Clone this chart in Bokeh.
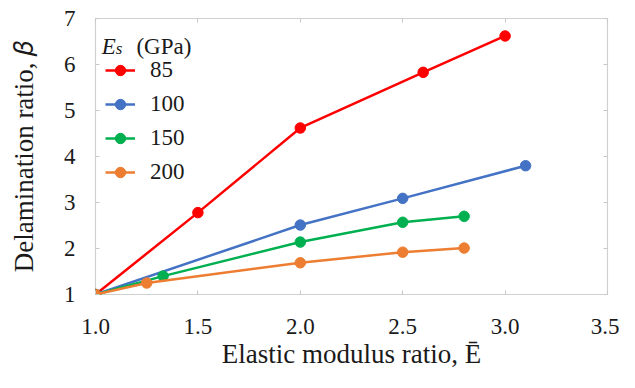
from bokeh.plotting import figure
from bokeh.models import Range1d, LinearAxis, Label, Legend, LegendItem, FixedTicker, ColumnDataSource
from bokeh.embed import file_html
from bokeh.resources import INLINE

# Data
x_85 = [1.0, 1.5, 2.0, 2.6, 3.0]
y_85 = [1.0, 2.78, 4.62, 5.83, 6.62]
x_100 = [1.0, 2.0, 2.5, 3.1]
y_100 = [1.0, 2.51, 3.09, 3.80]
x_150 = [1.0, 1.33, 2.0, 2.5, 2.8]
y_150 = [1.0, 1.40, 2.14, 2.57, 2.70]
x_200 = [1.0, 1.25, 2.0, 2.5, 2.8]
y_200 = [1.0, 1.25, 1.69, 1.92, 2.01]
series_labels = ["85", "100", "150", "200"]
series_colors = ["#FF0000", "#4472C4", "#00B050", "#ED7D31"]
x_ticks = [1.0, 1.5, 2.0, 2.5, 3.0, 3.5]
y_ticks = [1, 2, 3, 4, 5, 6, 7]
x_title = "Elastic modulus ratio, \u0112"
y_title = "Delamination ratio, \U0001D6FD"

SERIF = "'Liberation Serif', 'Times New Roman', 'DejaVu Serif', serif"
TXT = "#1a1a1a"
SMALL = "23px"

W, H = 619, 372
p = figure(width=W, height=H, output_backend="svg", toolbar_location=None,
           x_range=Range1d(1.0, 3.5), y_range=Range1d(1, 7),
           min_border_left=95, min_border_right=12, min_border_top=18, min_border_bottom=78)
p.grid.visible = False
p.outline_line_color = "#D0D0D0"
p.outline_line_width = 1.2
p.background_fill_color = "white"
p.border_fill_color = "white"

for ax in (p.xaxis[0], p.yaxis[0]):
    ax.axis_line_color = None
    ax.major_tick_line_color = "#C8C8C8"
    ax.major_tick_in = 4
    ax.major_tick_out = 0
    ax.minor_tick_line_color = None
    ax.major_label_text_font = SERIF
    ax.major_label_text_font_size = SMALL
    ax.major_label_text_font_style = "normal"
    ax.major_label_text_color = TXT
    ax.axis_label_text_font = SERIF
    ax.axis_label_text_font_size = "27px"
    ax.axis_label_text_font_style = "normal"
    ax.axis_label_text_color = TXT

p.xaxis[0].ticker = FixedTicker(ticks=x_ticks)
p.yaxis[0].ticker = FixedTicker(ticks=y_ticks)
p.xaxis[0].major_label_standoff = 24
p.yaxis[0].major_label_standoff = 20
p.xaxis[0].major_label_overrides = {t: f"{t:.1f}" for t in x_ticks}
p.xaxis[0].axis_label = x_title
p.yaxis[0].axis_label = y_title
p.xaxis[0].axis_label_standoff = 2
p.yaxis[0].axis_label_standoff = 22

# mirrored inside ticks on top and right (labels not painted)
for loc, tick_list in (("above", x_ticks), ("right", y_ticks)):
    a = LinearAxis(ticker=FixedTicker(ticks=tick_list), axis_line_color=None,
                   major_tick_line_color="#C8C8C8", major_tick_in=4, major_tick_out=0,
                   minor_tick_line_color=None, major_label_text_color=None,
                   major_label_text_font_size="8px", major_label_standoff=0)
    p.add_layout(a, loc)

xs = [x_85, x_100, x_150, x_200]
ys = [y_85, y_100, y_150, y_200]
items = []
for xv, yv, lab, col in zip(xs, ys, series_labels, series_colors):
    src = ColumnDataSource(dict(x=xv, y=yv))
    r1 = p.line("x", "y", source=src, line_color=col, line_width=2.5)
    r2 = p.scatter("x", "y", source=src, size=10.5, fill_color=col, line_color=col)
    items.append(LegendItem(label=lab, renderers=[r1, r2]))

legend = Legend(items=items, location=(10, 109), padding=0, margin=0,
                border_line_color=None, background_fill_alpha=0,
                label_text_font=SERIF, label_text_font_size=SMALL,
                label_text_font_style="normal",
                label_text_color=TXT, glyph_width=30, glyph_height=26,
                label_height=26, spacing=8, label_standoff=15)
p.add_layout(legend, "center")

# legend title: E_s (GPa)
p.add_layout(Label(x=1.030, y=6.40, text="E", text_font=SERIF, text_font_style="italic",
                   text_font_size="23px", text_baseline="alphabetic", text_color=TXT))
p.add_layout(Label(x=1.099, y=6.34, text="s", text_font=SERIF, text_font_style="italic",
                   text_font_size="17px", text_baseline="alphabetic", text_color=TXT))
p.add_layout(Label(x=1.200, y=6.40, text="(GPa)", text_font=SERIF, text_font_style="normal",
                   text_font_size=SMALL, text_baseline="alphabetic", text_color=TXT))

open("out.html", "w").write(file_html(p, INLINE))
